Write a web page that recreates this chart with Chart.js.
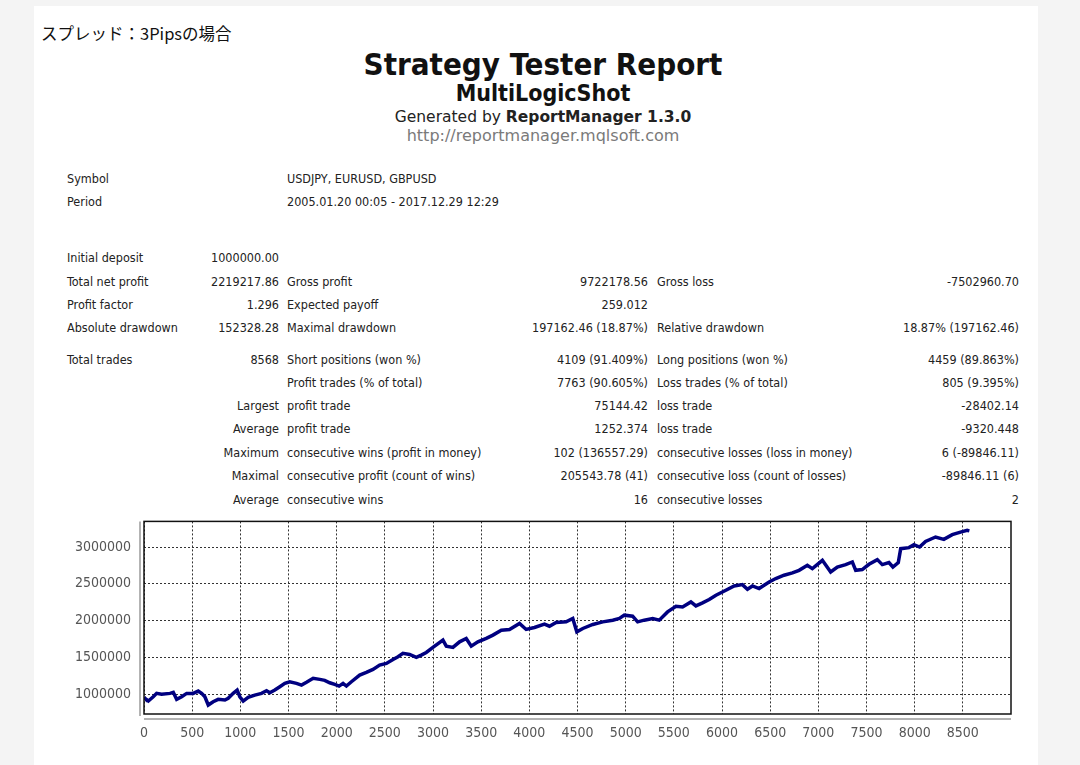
<!DOCTYPE html>
<html>
<head>
<meta charset="utf-8">
<title>Strategy Tester Report</title>
<script src="https://cdn.jsdelivr.net/npm/chart.js@4.4.1/dist/chart.umd.min.js"></script>
<style>
  html, body { margin: 0; padding: 0; }
  body { width: 1080px; height: 765px; background: #f4f4f4; position: relative; overflow: hidden;
         font-family: "DejaVu Sans Condensed", "DejaVu Sans", sans-serif; color: #222; }
  #page { position: absolute; left: 34px; top: 6px; width: 1004px; height: 759px; background: #fff; }
  .note { position: absolute; left: 41px; top: 22px; font-family: "Noto Sans CJK JP", sans-serif; font-size: 16.5px; color: #111; line-height: 22px; }
  .head { position: absolute; left: 0; width: 1086px; text-align: center; white-space: nowrap; }
  #title { top: 44px; font-size: 31px; font-weight: bold; color: #111; line-height: 40px; }
  #sub { top: 79px; font-size: 23px; font-weight: bold; color: #111; line-height: 28px; }
  #gen { top: 107px; font-family: "DejaVu Sans", sans-serif; font-size: 15.5px; color: #222; line-height: 20px; }
  #url { top: 126px; font-family: "DejaVu Sans", sans-serif; font-size: 16px; color: #7a7a7a; line-height: 20px; }
  .t { position: absolute; white-space: nowrap; font-size: 12.5px; line-height: 16px; color: #222; }
  #wrap { position: absolute; left: 40px; top: 500px; width: 1000px; height: 260px; }
</style>
</head>
<body>
<div id="page"></div>
<div class="note">スプレッド：3Pipsの場合</div>
<div class="head" id="title">Strategy Tester Report</div>
<div class="head" id="sub">MultiLogicShot</div>
<div class="head" id="gen">Generated by <b>ReportManager 1.3.0</b></div>
<div class="head" id="url">http://reportmanager.mqlsoft.com</div>
<div id="rows"></div>
<div id="wrap"><canvas id="equity" width="1000" height="260"></canvas></div>
<script>
// equity curve (trade number / balance)
const tradeNo = [0, 10, 45, 96, 131, 183, 270, 304, 339, 391, 443, 511, 563, 598, 632, 667, 718, 770, 840, 874,
  926, 967, 995, 1030, 1081, 1150, 1220, 1272, 1306, 1358, 1410, 1462, 1513, 1583, 1635, 1687, 1756, 1825, 1876, 1928,
  1980, 2025, 2066, 2101, 2153, 2239, 2308, 2377, 2446, 2516, 2585, 2637, 2688, 2757, 2827, 2878, 2930, 2999, 3103, 3138,
  3207, 3276, 3345, 3397, 3466, 3553, 3622, 3709, 3794, 3898, 3967, 4053, 4157, 4209, 4278, 4382, 4451, 4493, 4555, 4659,
  4762, 4866, 4935, 4986, 5072, 5124, 5193, 5280, 5349, 5435, 5522, 5591, 5677, 5729, 5798, 5867, 5937, 6040, 6126, 6212,
  6264, 6316, 6385, 6489, 6558, 6644, 6731, 6800, 6886, 6938, 7042, 7128, 7197, 7284, 7353, 7388, 7456, 7526, 7612, 7664,
  7733, 7774, 7830, 7855, 7941, 7992, 8051, 8113, 8217, 8303, 8390, 8476, 8545, 8568];
const balance = [960000, 946000, 910000, 967000, 1013000, 1000000, 1013000, 1027000, 932000, 967000, 1013000, 1013000, 1045000, 1013000, 967000, 855000, 900000, 932000, 923000, 946000,
  1013000, 1058000, 967000, 909000, 959000, 990000, 1013000, 1049000, 1022000, 1058000, 1103000, 1149000, 1171000, 1149000, 1126000, 1163000, 1217000, 1203000, 1190000, 1157000,
  1135000, 1112000, 1149000, 1112000, 1171000, 1262000, 1298000, 1339000, 1397000, 1420000, 1474000, 1510000, 1556000, 1542000, 1501000, 1533000, 1569000, 1637000, 1736000, 1654000,
  1637000, 1713000, 1759000, 1654000, 1713000, 1759000, 1804000, 1871000, 1881000, 1962000, 1881000, 1908000, 1953000, 1925000, 1976000, 1984000, 2030000, 1848000, 1894000, 1949000,
  1984000, 2007000, 2030000, 2075000, 2061000, 1984000, 2007000, 2030000, 2007000, 2119000, 2196000, 2187000, 2255000, 2200000, 2241000, 2287000, 2345000, 2413000, 2472000, 2490000,
  2427000, 2472000, 2436000, 2526000, 2572000, 2617000, 2648000, 2684000, 2752000, 2707000, 2820000, 2661000, 2729000, 2761000, 2797000, 2684000, 2694000, 2766000, 2829000, 2761000,
  2789000, 2729000, 2789000, 2978000, 2992000, 3032000, 3000000, 3077000, 3136000, 3104000, 3168000, 3203000, 3226000, 3219218];
const xTicks = [0, 500, 1000, 1500, 2000, 2500, 3000, 3500, 4000, 4500, 5000, 5500, 6000, 6500, 7000, 7500, 8000, 8500];
const yTicks = [1000000, 1500000, 2000000, 2500000, 3000000];

// report table: [row centre y, col1, col2, col3, col4, col5, col6]
const reportRows = [
  [179, 'Symbol', '', 'USDJPY, EURUSD, GBPUSD', '', '', ''],
  [202, 'Period', '', '2005.01.20 00:05 - 2017.12.29 12:29', '', '', ''],
  [258, 'Initial deposit', '1000000.00', '', '', '', ''],
  [282, 'Total net profit', '2219217.86', 'Gross profit', '9722178.56', 'Gross loss', '-7502960.70'],
  [305, 'Profit factor', '1.296', 'Expected payoff', '259.012', '', ''],
  [328, 'Absolute drawdown', '152328.28', 'Maximal drawdown', '197162.46 (18.87%)', 'Relative drawdown', '18.87% (197162.46)'],
  [360, 'Total trades', '8568', 'Short positions (won %)', '4109 (91.409%)', 'Long positions (won %)', '4459 (89.863%)'],
  [383, '', '', 'Profit trades (% of total)', '7763 (90.605%)', 'Loss trades (% of total)', '805 (9.395%)'],
  [406, '', 'Largest', 'profit trade', '75144.42', 'loss trade', '-28402.14'],
  [429, '', 'Average', 'profit trade', '1252.374', 'loss trade', '-9320.448'],
  [453, '', 'Maximum', 'consecutive wins (profit in money)', '102 (136557.29)', 'consecutive losses (loss in money)', '6 (-89846.11)'],
  [476, '', 'Maximal', 'consecutive profit (count of wins)', '205543.78 (41)', 'consecutive loss (count of losses)', '-89846.11 (6)'],
  [500, '', 'Average', 'consecutive wins', '16', 'consecutive losses', '2']
];
// column anchors: left edge for labels, right edge for values
const cols = [['l', 67], ['r', 279], ['l', 287], ['r', 648], ['l', 657], ['r', 1019]];

const rowsEl = document.getElementById('rows');
reportRows.forEach(row => {
  for (let c = 0; c < 6; c++) {
    const txt = row[c + 1];
    if (!txt) continue;
    const d = document.createElement('div');
    d.className = 't';
    d.textContent = txt;
    d.style.top = (row[0] - 8) + 'px';
    if (cols[c][0] === 'l') d.style.left = cols[c][1] + 'px';
    else d.style.right = (1080 - cols[c][1]) + 'px';
    rowsEl.appendChild(d);
  }
});

const tickFont = { family: '"DejaVu Sans Condensed", "DejaVu Sans", sans-serif', size: 14 };

// black frame round the plot plus the grey axis lines set a little apart from it
const framePlugin = {
  id: 'frame',
  afterDraw(chart) {
    const { ctx, chartArea: a } = chart;
    ctx.save();
    ctx.strokeStyle = '#9a9a9a';
    ctx.lineWidth = 1.5;
    ctx.beginPath();
    ctx.moveTo(a.left - 4, a.top);
    ctx.lineTo(a.left - 4, a.bottom + 2);
    ctx.moveTo(a.left, a.bottom + 5);
    ctx.lineTo(a.right, a.bottom + 5);
    ctx.stroke();
    ctx.strokeStyle = '#111';
    ctx.lineWidth = 1.5;
    ctx.strokeRect(a.left, a.top, a.right - a.left, a.bottom - a.top);
    ctx.restore();
  }
};

new Chart(document.getElementById('equity'), {
  type: 'line',
  data: {
    datasets: [{
      data: tradeNo.map((t, i) => ({ x: t, y: balance[i] })),
      borderColor: '#000080',
      borderWidth: 3.5,
      pointRadius: 0,
      tension: 0,
      fill: false
    }]
  },
  options: {
    responsive: false,
    animation: false,
    devicePixelRatio: 1,
    layout: { padding: { top: 11, right: 29, left: 0, bottom: 0 } },
    plugins: { legend: { display: false }, tooltip: { enabled: false } },
    scales: {
      x: {
        type: 'linear',
        min: 0,
        max: 9000,
        afterBuildTicks: s => { s.ticks = xTicks.map(v => ({ value: v })); },
        afterFit: s => { s.height = 46; },
        grid: { color: '#333', lineWidth: 1, drawTicks: false },
        border: { display: false, dash: [2, 2] },
        ticks: { padding: 11, color: '#555', font: tickFont, maxRotation: 0, autoSkip: false, callback: v => String(v) }
      },
      y: {
        min: 733000,
        max: 3348000,
        afterBuildTicks: s => { s.ticks = yTicks.map(v => ({ value: v })); },
        afterFit: s => { s.width = 104; },
        grid: { color: '#333', lineWidth: 1, drawTicks: false },
        border: { display: false, dash: [2, 2] },
        ticks: { padding: 13, color: '#555', font: tickFont, autoSkip: false, callback: v => String(v) }
      }
    }
  },
  plugins: [framePlugin]
});
</script>
</body>
</html>
